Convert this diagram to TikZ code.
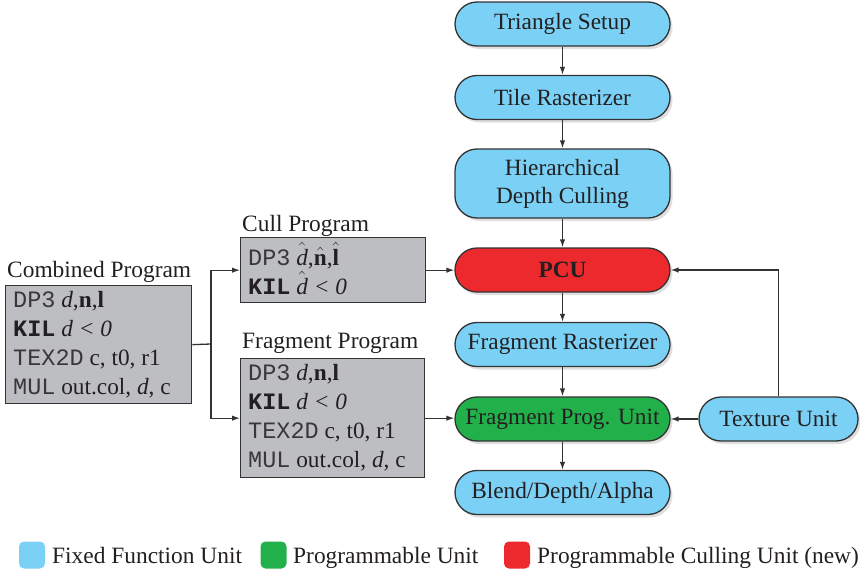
\documentclass[tikz,border=0pt]{standalone}
\usepackage{fontspec}
\setmainfont{Liberation Serif}
\setmonofont{Liberation Mono}
\usetikzlibrary{arrows.meta,shadows}
\definecolor{fixblue}{HTML}{7BD1F5}
\definecolor{proggreen}{HTML}{22B04A}
\definecolor{cullred}{HTML}{EC2A2E}
\definecolor{boxgrey}{HTML}{BDBEC1}
\definecolor{edgegrey}{HTML}{333333}
\definecolor{txt}{HTML}{231F20}
\definecolor{monotxt}{HTML}{3A3738}
\newcommand\hatit[1]{\ensuremath{\hat{\mbox{\itshape #1}}}}
\newcommand\hatbf[1]{\ensuremath{\hat{\mbox{\bfseries #1}}}}
\newcommand\mono[1]{{\fontsize{23.5}{27}\ttfamily\color{monotxt}#1}}
\newcommand\monob[1]{{\fontsize{23.5}{27}\ttfamily\bfseries #1}}
\begin{document}
\begin{tikzpicture}[x=1pt,y=-1pt,
  unit/.style={draw=edgegrey,line width=1.3pt,rounded corners=22pt,
    minimum width=215pt,minimum height=44pt,inner sep=0pt,align=center,
    text=txt,font=\fontsize{23.3}{28}\selectfont,
    drop shadow={shadow xshift=2.5pt,shadow yshift=-3pt,opacity=0.25}},
  prog/.style={draw=edgegrey,line width=1.3pt,fill=boxgrey,inner sep=0pt,anchor=north west},
  codeline/.style={anchor=base west,inner sep=0pt,text=txt,font=\fontsize{23.3}{27}\selectfont},
  title/.style={anchor=base west,inner sep=0pt,text=txt,font=\fontsize{23.4}{27}\selectfont},
  conn/.style={draw=edgegrey,line width=1.3pt,-{Latex[length=8pt,width=5.5pt]}},
  plain/.style={draw=edgegrey,line width=1.3pt},
  legsq/.style={rounded corners=5pt,minimum width=26pt,minimum height=27pt,inner sep=0pt},
  legtxt/.style={anchor=base west,inner sep=0pt,text=txt,font=\fontsize{23.4}{27}\selectfont}
]
\useasboundingbox (0,0) rectangle (860,570);

% pipeline
\node[unit,fill=fixblue] (ts) at (562.5,24) {Triangle Setup};
\node[unit,fill=fixblue] (tr) at (562.5,97.5) {Tile Rasterizer};
\node[unit,fill=fixblue,minimum height=69pt] (hdc) at (562.5,183.5) {Hierarchical\\Depth Culling};
\node[unit,fill=cullred] (pcu) at (562.5,270) {\bfseries PCU};
\node[unit,fill=fixblue] (fr) at (562.5,344.5) {Fragment Rasterizer};
\node[unit,fill=proggreen] (fpu) at (562.5,419) {Fragment Prog. Unit};
\node[unit,fill=fixblue] (bda) at (562.5,492.5) {Blend/Depth/Alpha};
\node[unit,fill=fixblue,minimum width=159pt] (tex) at (778.5,419) {Texture Unit};

% program boxes
\node[title] (combt) at (7,277) {Combined Program};
\node[prog,minimum width=186pt,minimum height=118pt] (comb) at (5,285) {};
\node[codeline] (c1) at (13,307) {\mono{DP3} \textit{d},\textbf{n},\textbf{l}};
\node[codeline] (c2) at (13,336) {\monob{KIL} \textit{d} \textit{< 0}};
\node[codeline] (c3) at (13,365) {\mono{TEX2D} c, t0, r1};
\node[codeline] (c4) at (13,394) {\mono{MUL} out.col, \textit{d}, c};

\node[title] (cullt) at (242,231) {Cull Program};
\node[prog,minimum width=185pt,minimum height=65pt] (cull) at (240,237) {};
\node[codeline] (u1) at (248,265) {\mono{DP3} \hatit{d},\hatbf{n},\hatbf{l}};
\node[codeline] (u2) at (248,294) {\monob{KIL} \hatit{d} \textit{< 0}};

\node[title] (fragt) at (242,348) {Fragment Program};
\node[prog,minimum width=184pt,minimum height=119pt] (frag) at (240,358) {};
\node[codeline] (f1) at (248,380) {\mono{DP3} \textit{d},\textbf{n},\textbf{l}};
\node[codeline] (f2) at (248,409) {\monob{KIL} \textit{d} \textit{< 0}};
\node[codeline] (f3) at (248,438) {\mono{TEX2D} c, t0, r1};
\node[codeline] (f4) at (248,467) {\mono{MUL} out.col, \textit{d}, c};

% connectors
\draw[conn] (ts) -- (tr);
\draw[conn] (tr) -- (hdc);
\draw[conn] (hdc) -- (pcu);
\draw[conn] (pcu) -- (fr);
\draw[conn] (fr) -- (fpu);
\draw[conn] (fpu) -- (bda);
\draw[conn] (tex) -- (fpu);
\draw[conn] (tex.north) |- (pcu.east);

\coordinate (junc) at (211,344);
\draw[plain] (comb.east) -- (junc);
\draw[conn] (junc) |- (cull.west);
\draw[conn] (junc) |- (frag.west);
\draw[conn] (cull.east) -- (cull.east -| pcu.west);
\draw[conn] (frag.east) -- (frag.east -| fpu.west);

% legend
\node[legsq,fill=fixblue] (lb) at (32,555) {};
\node[legtxt] (lbt) at (52,563) {Fixed Function Unit};
\node[legsq,fill=proggreen] (lg) at (273.5,555) {};
\node[legtxt] (lgt) at (293,563) {Programmable Unit};
\node[legsq,fill=cullred] (lr) at (517,555) {};
\node[legtxt] (lrt) at (537,563) {Programmable Culling Unit (new)};
\end{tikzpicture}
\end{document}
